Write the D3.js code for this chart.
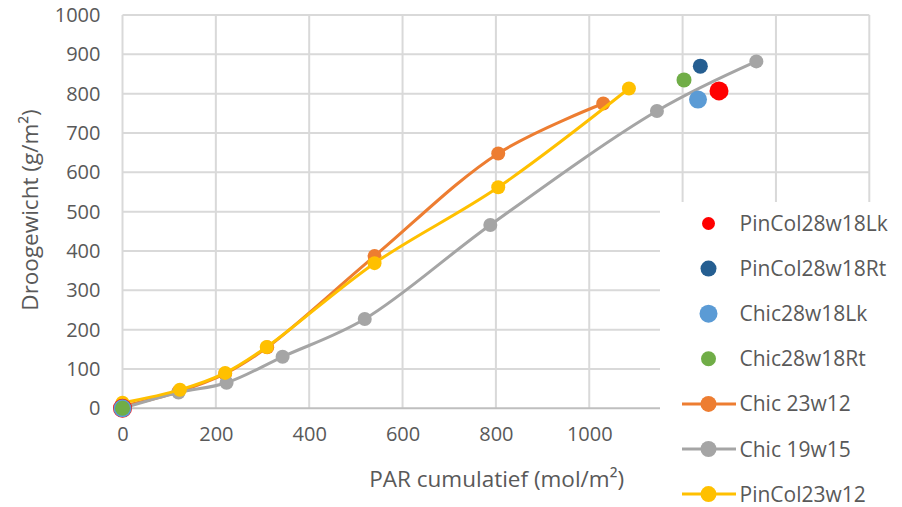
<!DOCTYPE html>
<html>
<head>
<meta charset="utf-8">
<script src="https://cdn.jsdelivr.net/npm/d3@7"></script>
<style>
  html, body { margin: 0; padding: 0; background: #fff; }
  svg { display: block; font-family: "Open Sans", Lato, sans-serif; }
</style>
</head>
<body>
<svg id="chart" width="902" height="507"></svg>
<script>
// Cumulative PAR (mol/m²) vs. dry weight (g/m²)
const chic23w12Par = [0, 120, 220, 310, 540, 805, 1030];
const chic23w12Dw  = [5, 42, 88, 155, 387, 648, 775];

const chic19w15Par = [0, 120, 223, 343, 519, 788, 1145, 1358];
const chic19w15Dw  = [0, 40, 65, 131, 227, 466, 756, 882];

const pinCol23w12Par = [0, 123, 220, 309, 540, 805, 1085];
const pinCol23w12Dw  = [14, 47, 90, 156, 369, 562, 813];

// Single harvest measurements (with origin)
const pinCol28w18LkPar = [0, 1278], pinCol28w18LkDw = [0, 807];
const pinCol28w18RtPar = [0, 1238], pinCol28w18RtDw = [0, 870];
const chic28w18LkPar   = [0, 1233], chic28w18LkDw   = [0, 785];
const chic28w18RtPar   = [0, 1203], chic28w18RtDw   = [0, 835];

const xGrid = [0, 200, 400, 600, 800, 1000, 1200, 1400, 1600];
const xTickLabels = [0, 200, 400, 600, 800, 1000];
const yTicks = [0, 100, 200, 300, 400, 500, 600, 700, 800, 900, 1000];

const zip = (xs, ys) => xs.map((x, i) => ({ x, y: ys[i] }));

const lineSeries = [
  { name: "Chic 23w12", color: "#ED7D31", r: 7, pts: zip(chic23w12Par, chic23w12Dw) },
  { name: "Chic 19w15", color: "#A5A5A5", r: 7, pts: zip(chic19w15Par, chic19w15Dw) },
  { name: "PinCol23w12", color: "#FFC000", r: 7, pts: zip(pinCol23w12Par, pinCol23w12Dw) }
];
const dotSeries = [
  { name: "PinCol28w18Lk", color: "#FF0000", r: 9.5, lr: 6.5, pts: zip(pinCol28w18LkPar, pinCol28w18LkDw) },
  { name: "PinCol28w18Rt", color: "#255E91", r: 7.5, lr: 8, pts: zip(pinCol28w18RtPar, pinCol28w18RtDw) },
  { name: "Chic28w18Lk", color: "#5B9BD5", r: 9, lr: 9, pts: zip(chic28w18LkPar, chic28w18LkDw) },
  { name: "Chic28w18Rt", color: "#70AD47", r: 7.5, lr: 7.5, pts: zip(chic28w18RtPar, chic28w18RtDw) }
];

const svg = d3.select("#chart");
const m = { left: 122.5, top: 15, right: 902 - 869.3, bottom: 507 - 408.3 };
const W = 902 - m.left - m.right, H = 507 - m.top - m.bottom;

const x = d3.scaleLinear().domain([0, 1600]).range([m.left, m.left + W]);
const y = d3.scaleLinear().domain([0, 1000]).range([m.top + H, m.top]);

const textColor = "#595959";

// Gridlines
const grid = svg.append("g");
grid.selectAll("line.v").data(xGrid).join("line")
  .attr("x1", d => x(d)).attr("x2", d => x(d))
  .attr("y1", y(0)).attr("y2", y(1000))
  .attr("stroke", "#D9D9D9").attr("stroke-width", 2);
grid.selectAll("line.h").data(yTicks).join("line")
  .attr("x1", x(0)).attr("x2", x(1600))
  .attr("y1", d => y(d)).attr("y2", d => y(d))
  .attr("stroke", d => d === 0 ? "#BFBFBF" : "#D9D9D9").attr("stroke-width", 2);

// Axes (labels only)
const fmt = d3.format("d");
const xAxis = svg.append("g").attr("transform", `translate(0,${y(0) + 18})`)
  .call(d3.axisBottom(x).tickValues(xTickLabels).tickFormat(fmt).tickSize(0).tickPadding(0));
const yAxis = svg.append("g").attr("transform", `translate(${x(0) - 22},0)`)
  .call(d3.axisLeft(y).tickValues(yTicks).tickFormat(fmt).tickSize(0).tickPadding(0));
[xAxis, yAxis].forEach(a => {
  a.select(".domain").remove();
  a.selectAll("text").attr("fill", textColor).style("font-size", "20px")
    .style("font-family", "'Open Sans', sans-serif");
});
xAxis.selectAll("text").attr("dy", "0.71em");

// Axis titles
svg.append("text")
  .attr("x", 496.7).attr("y", 487)
  .attr("text-anchor", "middle").attr("fill", textColor)
  .style("font-size", "22.5px").text("PAR cumulatief (mol/m²)");
svg.append("text")
  .attr("transform", "translate(38,210) rotate(-90)")
  .attr("text-anchor", "middle").attr("fill", textColor)
  .style("font-size", "22.5px").text("Droogewicht (g/m²)");

// Smoothed lines with markers
const line = d3.line().x(d => x(d.x)).y(d => y(d.y)).curve(d3.curveCatmullRom.alpha(0.5));
lineSeries.forEach(s => {
  const g = svg.append("g");
  g.append("path").datum(s.pts).attr("d", line)
    .attr("fill", "none").attr("stroke", s.color).attr("stroke-width", 3)
    .attr("stroke-linejoin", "round").attr("stroke-linecap", "round");
  g.selectAll("circle").data(s.pts).join("circle")
    .attr("cx", d => x(d.x)).attr("cy", d => y(d.y)).attr("r", s.r)
    .attr("fill", s.color);
});

// Marker-only series
dotSeries.forEach(s => {
  svg.append("g").selectAll("circle").data(s.pts).join("circle")
    .attr("cx", d => x(d.x)).attr("cy", d => y(d.y)).attr("r", s.r)
    .attr("fill", s.color);
});

// Legend
const legend = svg.append("g");
legend.append("rect").attr("x", 660).attr("y", 202).attr("width", 242).attr("height", 305)
  .attr("fill", "#fff");
const items = [...dotSeries.map(s => ({ ...s, kind: "dot" })), ...lineSeries.map(s => ({ ...s, kind: "line" }))];
const ly = i => 223.5 + i * 45.1;
items.forEach((s, i) => {
  const g = legend.append("g").attr("transform", `translate(0,${ly(i)})`);
  if (s.kind === "line") {
    g.append("line").attr("x1", 682).attr("x2", 736).attr("y1", 0).attr("y2", 0)
      .attr("stroke", s.color).attr("stroke-width", 3);
    g.append("circle").attr("cx", 708.5).attr("cy", 0).attr("r", 8).attr("fill", s.color);
  } else {
    g.append("circle").attr("cx", 708.5).attr("cy", 0).attr("r", s.lr).attr("fill", s.color);
  }
  g.append("text").attr("x", 739.5).attr("y", 0).attr("dy", "0.36em")
    .attr("fill", textColor).style("font-size", "21px").text(s.name);
});
</script>
</body>
</html>
